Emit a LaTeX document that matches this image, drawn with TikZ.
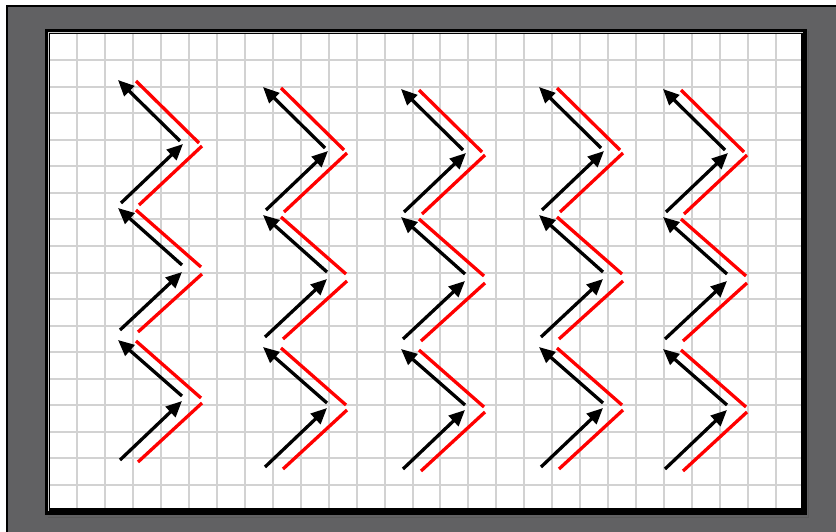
\documentclass[tikz,border=0pt]{standalone}
\usetikzlibrary{arrows.meta}
\definecolor{framegray}{RGB}{97,97,99}
\definecolor{gridgray}{RGB}{210,210,210}
\definecolor{zred}{RGB}{255,0,0}
\tikzset{
  vec/.style={draw=black, line width=3.3pt, line cap=butt, -{Triangle[length=16pt,width=14pt]}},
  redseg/.style={draw=zred, line width=3.3pt, line cap=butt},
  gridline/.style={draw=gridgray, line width=2pt}
}
\begin{document}
\begin{tikzpicture}[x=1pt,y=-1pt]
\useasboundingbox (0,0) rectangle (836,531);
\clip (0,0) rectangle (836,531);
\fill[white] (0,0) rectangle (836,531);
% outer gray frame
\draw[draw=black, line width=1.5pt, fill=framegray] (7,6) rectangle (850,545);
% panel border
\fill[black] (45,29) rectangle (807,515);
\draw[gray!40, line width=0.6pt] (48.4,511) -- (48.4,32.4) -- (803,32.4);
\draw[gray!70!black, line width=1pt] (48,517) -- (808,517) -- (808,31);
% panel
\fill[white] (50,34) rectangle (801,508);
\begin{scope}
  \clip (50,34) rectangle (801,508);
  \foreach \k in {0,...,25} {\draw[gridline] ({round(77+27.96*\k)},34) -- ({round(77+27.96*\k)},508);}
  \foreach \k in {0,...,16} {\draw[gridline] (50,{round(60+26.5625*\k)}) -- (801,{round(60+26.5625*\k)});}
\end{scope}
% zigzags
\foreach \c/\dx/\dy in {1/-145/-7, 2/0/0, 3/138/2, 4/276/0, 5/400/2} {
  \begin{scope}[shift={(\dx,\dy)}]
    \foreach \k/\xa/\ya/\xb/\yb in {1/283/469/347/410, 2/346/405/281/348, 3/283/339/347/281, 4/346/274/281/217, 5/284/212/347/153, 6/344/150/281/88} {
      \coordinate (c\c r\k s) at (\xa,\ya);
      \coordinate (c\c r\k e) at (\xb,\yb);
      \draw[redseg] (c\c r\k s) -- (c\c r\k e);
    }
    \foreach \k/\xa/\ya/\xb/\yb in {1/265/467/327/408, 2/327/403/263/347, 3/265/337/327/279, 4/327/272/263/215, 5/266/210/328/151, 6/325/148/263/87} {
      \coordinate (c\c b\k s) at (\xa,\ya);
      \coordinate (c\c b\k e) at (\xb,\yb);
      \draw[vec] (c\c b\k s) -- (c\c b\k e);
    }
  \end{scope}
}
\end{tikzpicture}
\end{document}
